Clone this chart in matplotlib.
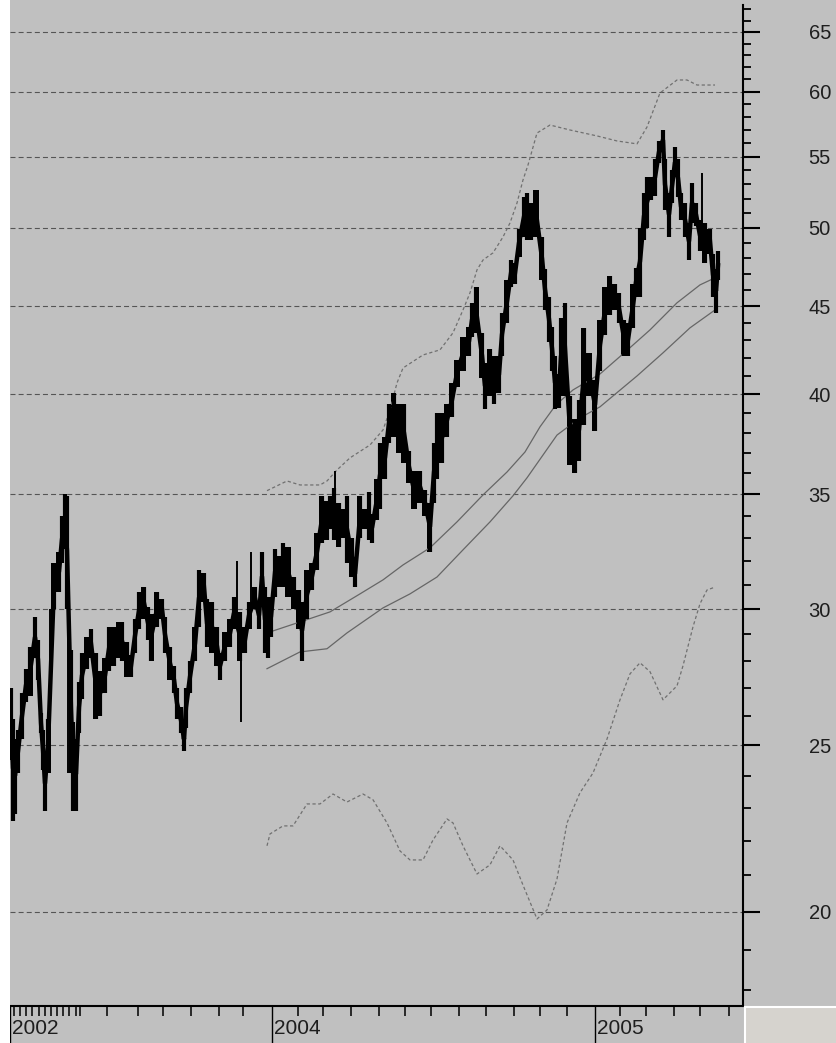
import matplotlib
matplotlib.use("Agg")
import matplotlib.pyplot as plt
from matplotlib.patches import Rectangle
from matplotlib.lines import Line2D
from matplotlib.ticker import FixedLocator, NullFormatter

# price bars: session index, high, low
session = [1, 3, 5, 8, 12, 16, 20, 25, 28, 31,
           33, 35, 38, 44, 49, 52, 55, 57, 61, 63,
           66, 69, 72, 77, 81, 86, 90, 95, 99, 104,
           109, 112, 117, 121, 125, 129, 134, 138, 141, 147,
           152, 155, 160, 164, 167, 171, 174, 176, 180, 185,
           189, 194, 197, 202, 207, 210, 215, 220, 224, 230,
           235, 239, 245, 249, 252, 255, 258, 261, 265, 269,
           273, 278, 284, 289, 292, 297, 302, 307, 312, 317,
           320, 324, 329, 334, 337, 342, 345, 350, 355, 359,
           362, 367, 370, 375, 379, 384, 389, 394, 399, 404,
           410, 415, 420, 424, 427, 432, 437, 442, 447, 453,
           459, 462, 466, 472, 475, 480, 484, 489, 492, 497,
           501, 505, 509, 514, 517, 521, 526, 532, 535, 539,
           542, 545, 549, 551, 555, 560, 565, 569, 574, 579,
           585, 590, 595, 600, 605, 609, 614, 618, 623, 626,
           630, 634, 637, 641, 645, 649, 653, 655, 659, 662,
           665, 668, 671, 675, 679, 682, 686, 690, 695, 700,
           703, 706, 708]
high = [27.0, 25.9, 25.2, 25.5, 26.8, 27.7, 28.5, 29.7, 28.8, 26.1,
        25.5, 24.6, 25.9, 31.9, 32.4, 34.0, 35.0, 34.9, 28.4, 25.8,
        25.2, 27.2, 28.3, 28.9, 29.2, 28.3, 27.6, 28.1, 29.3, 29.3,
        29.5, 29.5, 28.7, 28.2, 29.6, 30.7, 30.9, 30.1, 29.8, 30.7,
        30.4, 29.7, 28.5, 27.8, 27.0, 26.3, 25.6, 27.0, 28.0, 29.3,
        31.6, 31.5, 30.4, 30.3, 29.3, 28.3, 29.1, 29.6, 30.5, 29.9,
        29.3, 30.3, 30.9, 30.3, 32.4, 30.9, 30.5, 30.5, 32.5, 32.2,
        32.8, 32.6, 31.3, 30.8, 30.3, 31.6, 31.9, 33.2, 34.9, 34.7,
        34.9, 35.3, 34.6, 34.3, 34.9, 33.0, 32.0, 34.9, 34.3, 35.1,
        34.1, 35.7, 37.5, 37.8, 39.5, 40.1, 39.5, 39.5, 37.1, 36.1,
        36.1, 35.2, 34.6, 37.5, 39.0, 39.0, 39.5, 40.6, 41.9, 43.2,
        43.8, 45.2, 46.2, 43.4, 41.7, 42.5, 42.1, 42.1, 44.6, 46.6,
        47.9, 47.7, 49.9, 52.1, 52.4, 51.7, 52.6, 49.4, 47.3, 45.6,
        43.8, 42.1, 41.1, 44.3, 45.2, 39.9, 38.7, 39.7, 43.7, 42.3,
        40.8, 44.2, 46.2, 46.9, 46.4, 45.8, 44.2, 44.0, 46.4, 47.4,
        50.0, 52.4, 53.5, 53.5, 54.8, 56.2, 57.0, 54.8, 52.4, 54.0,
        55.7, 54.8, 52.4, 51.7, 50.3, 53.1, 51.7, 50.5, 50.3, 49.9,
        48.3, 47.3, 48.5]
low = [24.5, 22.6, 22.8, 24.1, 25.2, 26.5, 26.7, 28.1, 27.3, 25.4,
       24.2, 22.9, 24.1, 30.0, 30.7, 31.9, 32.5, 30.0, 24.1, 22.9,
       22.9, 25.4, 26.6, 27.7, 28.1, 25.9, 26.0, 26.8, 27.6, 27.8,
       28.1, 28.0, 27.4, 27.4, 28.3, 29.2, 29.6, 28.8, 28.0, 29.3,
       29.6, 28.3, 27.3, 26.8, 25.9, 25.4, 24.8, 25.6, 26.8, 28.0,
       29.3, 30.3, 28.5, 28.3, 27.8, 27.3, 28.0, 28.5, 29.2, 28.0,
       28.3, 29.2, 30.0, 29.2, 30.3, 28.3, 28.1, 28.9, 30.5, 30.9,
       30.9, 30.5, 30.0, 29.2, 28.0, 29.6, 30.8, 31.6, 32.8, 32.9,
       33.4, 32.9, 32.6, 33.0, 31.9, 31.3, 30.9, 33.0, 33.4, 32.9,
       32.8, 33.8, 34.3, 35.7, 37.5, 37.8, 37.0, 36.5, 35.5, 34.3,
       34.6, 34.0, 32.4, 34.6, 35.7, 36.5, 37.8, 38.8, 40.4, 41.3,
       42.1, 43.2, 43.4, 40.9, 39.2, 39.9, 39.5, 40.1, 42.1, 44.0,
       46.2, 46.4, 48.1, 49.4, 49.2, 49.2, 49.4, 46.6, 44.8, 42.9,
       41.3, 39.2, 39.3, 39.9, 39.9, 36.4, 36.0, 36.6, 38.4, 39.9,
       38.1, 41.3, 43.3, 44.5, 44.8, 44.0, 42.1, 42.1, 43.7, 45.6,
       45.6, 49.2, 50.0, 51.9, 52.2, 54.5, 55.5, 51.2, 49.4, 51.7,
       53.5, 52.1, 50.5, 49.4, 47.9, 50.3, 50.1, 48.5, 47.7, 48.3,
       45.6, 44.6, 46.6]

# thin single-session spikes
spike_session = [40, 58, 227, 231, 241, 325, 692]
spike_high = [30.0, 30.0, 32.0, 28.8, 32.4, 36.1, 53.8]
spike_low = [26.9, 24.1, 29.6, 25.8, 30.0, 33.8, 49.4]

# moving averages
ma_fast_session = [257, 290, 320, 350, 373, 393, 420, 447, 473, 497,
                   515, 530, 546, 563, 590, 613, 640, 667, 690, 705]
ma_fast = [29.06, 29.49, 29.89, 30.62, 31.20, 31.83, 32.57, 33.72, 34.96, 36.05,
           37.03, 38.30, 39.45, 40.24, 41.11, 42.23, 43.61, 45.22, 46.32, 46.76]
ma_slow_session = [257, 290, 317, 337, 373, 400, 427, 453, 480, 503,
                   517, 547, 570, 590, 627, 653, 680, 705]
ma_slow = [27.70, 28.33, 28.45, 29.06, 30.05, 30.62, 31.32, 32.48, 33.72, 34.92,
           35.77, 37.88, 38.76, 39.34, 41.00, 42.29, 43.73, 44.79]

# dashed upper envelope
upper_session = [257, 277, 290, 310, 317, 327, 340, 360, 373, 380,
                 387, 393, 413, 430, 443, 453, 460, 467, 473, 483,
                 493, 500, 507, 513, 518, 527, 540, 560, 587, 607,
                 627, 637, 650, 667, 677, 687, 705]
upper = [35.16, 35.62, 35.43, 35.43, 35.62, 36.15, 36.74, 37.38, 38.14, 39.18,
         40.62, 41.44, 42.17, 42.46, 43.44, 44.79, 45.83, 47.26, 47.89, 48.35,
         49.39, 50.33, 51.69, 53.31, 54.39, 56.77, 57.38, 57.00, 56.55, 56.17,
         55.95, 57.23, 59.90, 60.95, 60.95, 60.54, 60.54]

# dashed lower line
lower_session = [257, 260, 273, 283, 297, 310, 323, 337, 353, 363,
                 377, 390, 400, 413, 423, 437, 443, 453, 467, 480,
                 490, 503, 513, 527, 537, 547, 557, 570, 583, 597,
                 610, 620, 630, 640, 653, 667, 673, 683, 690, 697, 705]
lower = [21.85, 22.20, 22.44, 22.44, 23.11, 23.11, 23.42, 23.17, 23.42, 23.24,
         22.53, 21.70, 21.44, 21.44, 22.02, 22.65, 22.53, 21.85, 21.04, 21.30,
         21.85, 21.44, 20.73, 19.81, 20.05, 20.90, 22.53, 23.46, 24.09, 25.21,
         26.57, 27.51, 27.92, 27.59, 26.57, 27.07, 27.81, 29.30, 30.22, 30.78, 30.90]

# axes ticks
year_pos = [0, 262, 585]
year_labels = ["2002", "2004", "2005"]
month_pos = [4, 10, 16, 22, 29, 35, 41, 47, 53, 59, 66, 70,
             97, 128, 153, 181, 209, 233,
             288, 313, 341, 369, 395, 421, 449, 476, 504, 530, 557,
             610, 636, 664, 690, 719]
price_major = [20, 25, 30, 35, 40, 45, 50, 55, 60, 65]
price_minor = [v for v in range(18, 68) if v % 5 != 0]

BG = "#c0c0c0"
plt.rcParams["font.family"] = ["Liberation Sans", "DejaVu Sans"]

fig = plt.figure(figsize=(8.37, 10.43), dpi=100, facecolor=BG)
ax = fig.add_axes([10 / 837, 37 / 1043, 733 / 837, 1001 / 1043])
ax.set_facecolor(BG)
ax.set_yscale("log")
ax.set_xlim(0, 733)
ax.set_ylim(17.63, 67.39)

ax.set_axisbelow(True)
ax.yaxis.grid(True, which="major", color="#555555", lw=0.8, ls=(0, (4.5, 2.8)))

ax.plot(upper_session, upper, color="#707070", lw=0.9, ls=(0, (2.6, 2.0)))
ax.plot(lower_session, lower, color="#707070", lw=0.9, ls=(0, (2.6, 2.0)))
ax.plot(ma_fast_session, ma_fast, color="#666666", lw=0.9)
ax.plot(ma_slow_session, ma_slow, color="#666666", lw=0.9)

# price band: stepped blocks, the bars, and a thick trace tying bars together
mid = [(h + l) / 2 for h, l in zip(high, low)]
ax.fill_between(session, low, high, step="mid", color="black", lw=0)
ax.vlines(session, low, high, color="black", lw=3.0, capstyle="butt")
ax.plot(session, mid, color="black", lw=3.2, solid_joinstyle="miter")
ax.vlines(spike_session, spike_low, spike_high, color="black", lw=1.4, capstyle="butt")

# y axis on the right
ax.yaxis.tick_right()
ax.set_yticks(price_major, [str(v) for v in price_major])
ax.yaxis.set_minor_locator(FixedLocator(price_minor))
ax.yaxis.set_minor_formatter(NullFormatter())
ax.tick_params(axis="y", which="major", direction="out", length=12.2, width=1.5,
               pad=35, labelsize=14.5, labelcolor="#1e1e1e", color="black")
ax.tick_params(axis="y", which="minor", direction="out", length=5.8, width=1.3,
               color="black")

# x axis
ax.set_xticks(year_pos, ["", "", ""])
ax.xaxis.set_minor_locator(FixedLocator(month_pos))
ax.tick_params(axis="x", which="major", direction="out", length=26.6, width=1.0,
               color="black")
ax.tick_params(axis="x", which="minor", direction="out", length=7.0, width=1.1,
               color="black")
for pos, lab in zip(year_pos, year_labels):
    ax.annotate(lab, xy=(pos, 0), xycoords=("data", "axes fraction"),
                xytext=(1.2, -9.5), textcoords="offset points",
                ha="left", va="top", fontsize=15, color="#1e1e1e",
                annotation_clip=False)

for side in ["top", "left"]:
    ax.spines[side].set_visible(False)
for side in ["right", "bottom"]:
    ax.spines[side].set_linewidth(1.5)
    ax.spines[side].set_color("black")

# window frame bits
fig.patches.append(Rectangle((0, 0), 10 / 837, 1, transform=fig.transFigure,
                             facecolor="white", edgecolor="none"))
fig.patches.append(Rectangle((745 / 837, 0), 92 / 837, 36 / 1043, transform=fig.transFigure,
                             facecolor="#d6d3ce", edgecolor="none"))
fig.lines.append(Line2D([745 / 837, 745 / 837], [0, 36 / 1043], transform=fig.transFigure,
                        color="white", lw=1.5))
fig.lines.append(Line2D([745 / 837, 1], [36 / 1043, 36 / 1043], transform=fig.transFigure,
                        color="white", lw=1.5))

fig.savefig("out.png", dpi=100, facecolor=BG)
